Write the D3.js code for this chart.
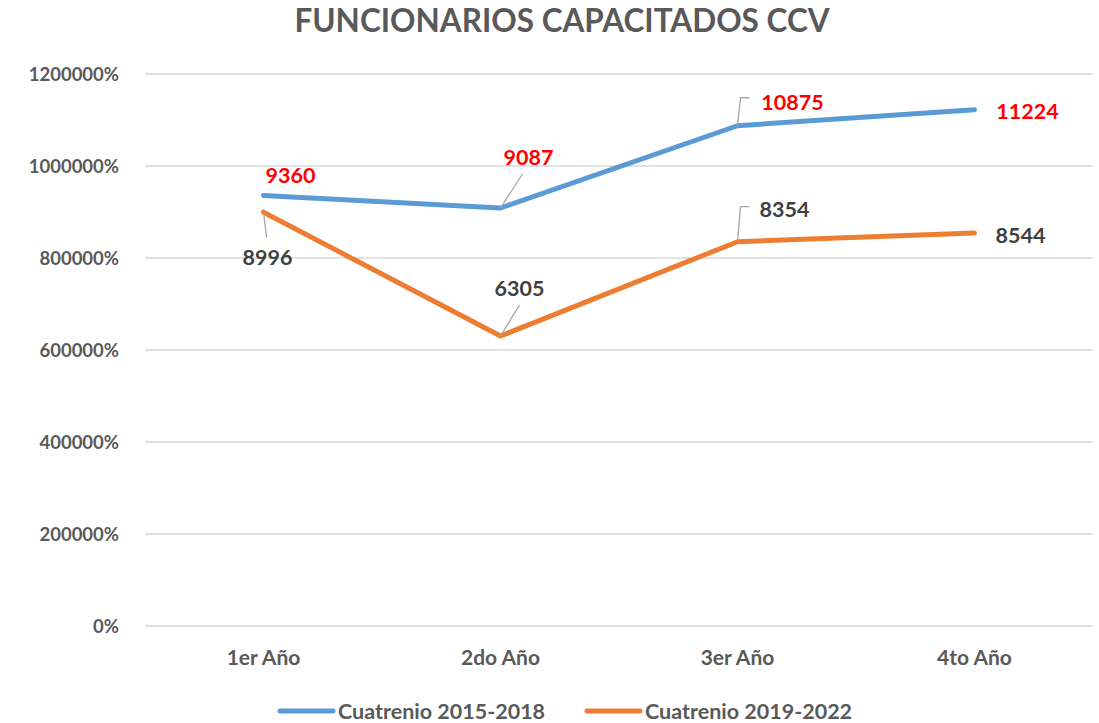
<!DOCTYPE html>
<html>
<head>
<meta charset="utf-8">
<script src="https://cdn.jsdelivr.net/npm/d3@7"></script>
<style>
  body { margin: 0; background: #fff; }
  text { font-family: Lato, "Open Sans", sans-serif; font-weight: bold; }
</style>
</head>
<body>
<div id="chart"></div>
<script>
var categories = ["1er Año", "2do Año", "3er Año", "4to Año"];
var serie1 = [9360, 9087, 10875, 11224];
var serie2 = [8996, 6305, 8354, 8544];
var seriesNames = ["Cuatrenio 2015-2018", "Cuatrenio 2019-2022"];
var yTicks = [0, 2000, 4000, 6000, 8000, 10000, 12000];

var width = 1099, height = 723;
var margin = { top: 74, right: 6, bottom: 97, left: 145 };
var colors = ["#5B9BD5", "#ED7D31"];
var labelColors = ["#FF0000", "#404040"];

// where each data label sits relative to its point, and its leader line
var labelPos = [
  [{ dx: 27, dy: -20 }, { dx: 28, dy: -51, lead: "line", lx: 22, ly: -34 },
   { dx: 55, dy: -23, lead: "elbow", ly: -28 }, { dx: 53, dy: 2 }],
  [{ dx: 4, dy: 45, lead: "line", lx: 3, ly: 25 }, { dx: 19, dy: -47, lead: "line", lx: 19, ly: -31 },
   { dx: 47, dy: -32, lead: "elbow", ly: -35 }, { dx: 46, dy: 2 }]
];

var svg = d3.select("#chart").append("svg")
  .attr("width", width)
  .attr("height", height);

var x = d3.scaleBand()
  .domain(categories)
  .range([margin.left, width - margin.right]);

var y = d3.scaleLinear()
  .domain([0, 12000])
  .range([height - margin.bottom, margin.top]);

// title
svg.append("text")
  .attr("x", 562).attr("y", 32)
  .attr("text-anchor", "middle")
  .style("font-size", "31.5px")
  .style("fill", "#595959")
  .text("FUNCIONARIOS CAPACITADOS CCV");

// grid
svg.append("g").selectAll("line")
  .data(yTicks).enter().append("line")
  .attr("x1", margin.left).attr("x2", width - margin.right)
  .attr("y1", function (d) { return y(d); })
  .attr("y2", function (d) { return y(d); })
  .style("stroke", "#D9D9D9")
  .style("stroke-width", 1.3);

// y axis
var yAxis = svg.append("g")
  .attr("transform", "translate(" + (margin.left - 23) + ",0)")
  .call(d3.axisLeft(y).tickValues(yTicks).tickSize(0)
    .tickFormat(function (d) { return (d * 100) + "%"; }));
yAxis.select(".domain").remove();
yAxis.selectAll("text")
  .style("font-size", "18.5px")
  .style("fill", "#595959")
  .attr("dy", "0.35em");

// x axis
var xAxis = svg.append("g")
  .attr("transform", "translate(0," + (height - margin.bottom + 32) + ")")
  .call(d3.axisBottom(x).tickSize(0));
xAxis.select(".domain").remove();
xAxis.selectAll("text")
  .style("font-size", "21px")
  .style("fill", "#595959")
  .attr("y", 0)
  .attr("dy", "0.35em");

var cx = function (d, i) { return x(categories[i]) + x.bandwidth() / 2; };

var line = d3.line()
  .x(function (d, i) { return x(categories[i]) + x.bandwidth() / 2; })
  .y(function (d) { return y(d); });

[serie1, serie2].forEach(function (serie, s) {
  svg.append("path")
    .datum(serie)
    .attr("d", line)
    .style("fill", "none")
    .style("stroke", colors[s])
    .style("stroke-width", 5)
    .style("stroke-linecap", "round")
    .style("stroke-linejoin", "round");

  var g = svg.append("g");
  serie.forEach(function (v, i) {
    var px = cx(v, i), py = y(v), p = labelPos[s][i];
    if (p.lead == "line") {
      g.append("line")
        .attr("x1", px).attr("y1", py)
        .attr("x2", px + p.lx).attr("y2", py + p.ly)
        .style("stroke", "#A6A6A6").style("stroke-width", 1.3);
    } else if (p.lead == "elbow") {
      g.append("polyline")
        .attr("points", [[px, py], [px + 3, py + p.ly], [px + 12, py + p.ly]].join(" "))
        .style("fill", "none")
        .style("stroke", "#A6A6A6").style("stroke-width", 1.3);
    }
    g.append("text")
      .attr("x", px + p.dx).attr("y", py + p.dy)
      .attr("dy", "0.35em")
      .attr("text-anchor", "middle")
      .style("font-size", "21.5px")
      .style("fill", labelColors[s])
      .text(v);
  });
});

// legend
var legend = svg.append("g").selectAll("g")
  .data(seriesNames).enter().append("g")
  .attr("transform", function (d, i) { return "translate(280," + 711 + ")translate(" + (i * 307) + ",0)"; });
legend.append("line")
  .attr("x1", 0).attr("x2", 53)
  .style("stroke", function (d, i) { return colors[i]; })
  .style("stroke-width", 5)
  .style("stroke-linecap", "round");
legend.append("text")
  .attr("x", 58).attr("dy", "0.35em")
  .style("font-size", "21.5px")
  .style("fill", "#595959")
  .text(function (d) { return d; });
</script>
</body>
</html>
